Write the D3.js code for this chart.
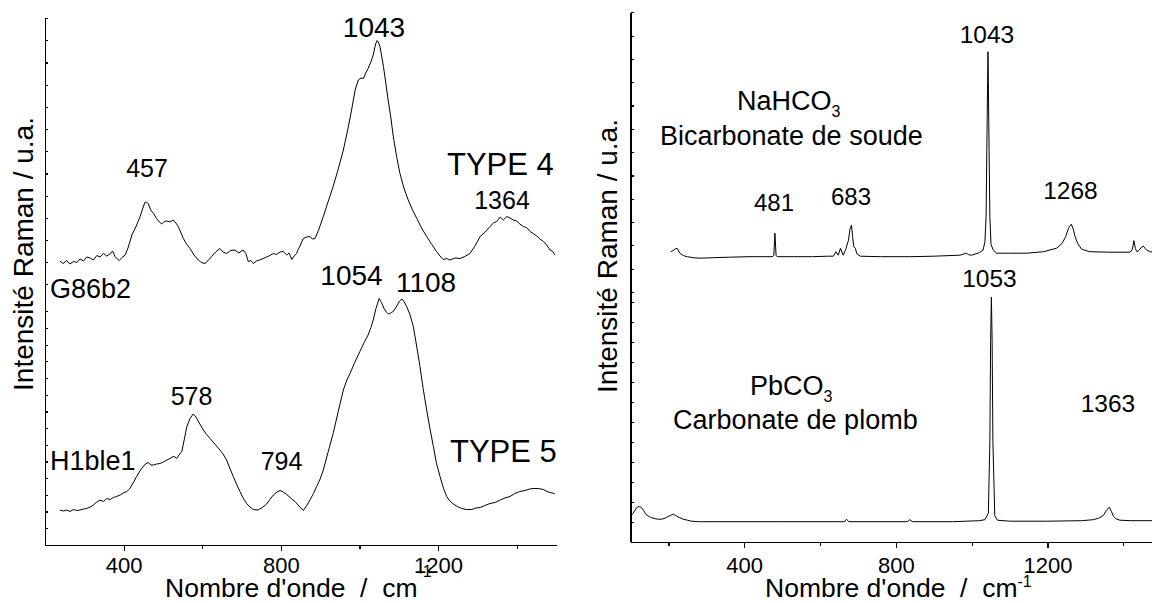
<!DOCTYPE html>
<html><head><meta charset="utf-8">
<script src="https://cdn.jsdelivr.net/npm/d3@7"></script>
<style>
body{margin:0;background:#fff;}
svg{display:block;font-family:"Liberation Sans",Arial,sans-serif;}
.axis path,.axis line{stroke:#000;stroke-width:1.2;shape-rendering:crispEdges;}
.axis text{fill:#000;}
</style></head><body>
<script>
// ---------- DATA ----------
// Left panel: tick values
const leftXMajor = [400, 800, 1200];
const leftXMinor = [600, 1000, 1400];
const leftYTicks = [0, 3.34, 6.68, 10.02, 13.36, 16.7, 20.04, 23.38, 26.72, 30.06, 33.4, 36.74, 40.08, 43.42, 46.76,
  52.12, 56.56, 61.0, 65.44, 69.88, 74.32, 78.76, 83.2, 87.64, 92.08, 96.52, 100.96, 105.4];
// Right panel: tick values
const rightXMajor = [400, 800, 1200];
const rightXMinor = [200, 600, 1000, 1400];
const rightYTicks = [0, 4, 8, 12, 16, 20, 24, 28, 32, 36, 40, 44, 48,
  49.96, 54.62, 59.28, 63.94, 68.6, 73.26, 77.92, 82.58, 87.24, 91.9, 96.56, 101.22, 105.88];

// TYPE 4 (G86b2)
const type4Wn = [238,246,255,263,272,281,289,298,306,315,323,332,340,349,357,365,372,378,384,389,396,404,412,421,431,442,449,454,458,463,469,476,484,491,497,503,510,518,526,533,539,545,552,560,569,579,590,598,607,615,624,634,645,653,662,672,683,693,704,711,717,724,730,738,746,755,764,772,781,789,798,806,815,821,828,834,840,844,850,857,866,874,880,887,897,908,920,933,946,959,970,980,989,997,1004,1010,1016,1022,1029,1035,1041,1045,1049,1052,1056,1061,1067,1073,1080,1086,1095,1103,1113,1124,1135,1146,1158,1171,1184,1196,1205,1213,1222,1230,1243,1256,1268,1281,1294,1307,1320,1332,1341,1349,1358,1366,1375,1383,1391,1400,1408,1417,1425,1434,1442,1451,1459,1468,1476,1485,1492,1497];
const type4Int = [56.8,56.3,56.9,56.2,56.7,56.5,57.2,56.8,57.6,57.4,57.0,57.9,57.6,58.3,57.8,58.2,58.8,57.7,57.2,56.9,57.5,58.0,59.6,62.0,63.6,65.7,67.4,68.5,68.6,68.2,67.0,66.3,65.3,64.6,64.2,64.7,64.8,64.6,65.0,64.4,63.7,62.6,61.3,60.2,59.3,58.0,57.0,56.5,56.3,56.9,57.7,58.6,59.3,58.6,58.3,58.9,59.0,58.4,59.0,58.3,56.7,56.9,56.3,56.8,57.0,57.3,57.6,57.9,58.3,58.1,58.6,58.7,58.0,58.4,57.1,57.8,58.3,59.1,60.0,61.3,61.6,61.7,61.2,61.3,63.2,65.7,68.6,71.7,75.2,79.0,83.0,87.0,91.0,93.0,93.4,93.3,94.4,95.3,96.6,98.0,100.2,100.9,100.4,99.7,98.0,95.7,92.4,89.0,85.4,81.7,77.5,74.3,71.4,69.0,67.0,65.3,63.4,61.7,60.1,58.7,57.8,57.1,57.3,57.0,57.4,57.3,57.7,58.3,59.8,61.7,62.6,63.7,64.4,64.7,65.6,65.0,65.7,65.4,65.0,64.8,64.2,63.7,63.5,62.7,62.3,61.8,61.2,60.7,60.0,59.0,58.7,58.0];

// TYPE 5 (H1ble1)
const type5Wn = [238,247,255,264,272,281,289,298,306,315,323,332,340,349,357,366,374,382,391,399,408,415,421,427,433,440,446,455,463,469,476,484,493,501,510,518,526,531,535,541,548,554,561,569,577,582,586,594,603,611,620,632,645,653,662,670,679,687,696,704,713,721,730,742,753,764,772,781,790,798,806,815,825,836,846,857,866,874,883,891,900,908,920,933,946,959,968,976,988,1001,1012,1022,1029,1035,1042,1050,1056,1062,1068,1074,1081,1086,1095,1102,1108,1114,1120,1128,1137,1145,1154,1162,1171,1180,1188,1196,1205,1214,1222,1230,1239,1249,1260,1273,1286,1296,1307,1319,1332,1345,1358,1370,1383,1395,1408,1421,1433,1442,1455,1468,1477,1485,1492,1497];
const type5Int = [7.0,6.8,7.0,6.7,7.1,6.9,7.0,7.2,7.3,7.6,8.0,8.6,9.0,8.7,9.3,9.1,9.5,9.7,10.0,10.4,10.7,11.2,12.0,12.8,13.7,14.6,15.3,16.2,16.5,16.0,16.0,16.2,16.3,16.6,17.0,17.3,17.7,17.6,17.3,18.0,18.7,21.0,23.7,25.3,26.2,25.8,25.3,24.2,23.0,22.1,21.3,20.2,19.0,18.2,17.0,15.4,13.7,12.2,10.7,9.4,8.3,7.6,7.1,7.0,7.5,8.2,9.1,10.0,10.6,10.9,10.6,10.1,9.4,8.7,7.8,6.9,7.9,9.0,10.3,11.7,13.2,15.0,18.5,22.3,26.7,31.0,33.0,34.3,36.5,38.7,40.5,42.0,43.5,45.0,47.3,49.3,48.5,47.4,46.6,46.2,46.5,46.7,47.8,48.8,49.2,48.6,47.7,46.2,43.7,40.0,35.7,31.3,27.0,23.0,19.7,16.3,13.7,11.3,9.7,8.8,8.2,7.7,7.3,7.1,7.1,7.4,7.5,7.9,8.3,8.5,9.0,9.4,9.7,10.3,10.7,10.9,11.2,11.3,11.3,11.1,10.7,10.5,10.4,10.2];

// NaHCO3
const nahco3Wn = [206,212,217,223,230,240,250,265,283,320,362,410,455,474,478,481,484,488,530,580,620,635,642,648,654,661,668,675,679,683,686,689,693,697,706,760,837,900,969,986,992,1000,1020,1030,1035,1038,1040,1042,1043,1044,1046,1048,1051,1057,1066,1100,1145,1190,1224,1238,1248,1256,1263,1268,1273,1280,1290,1312,1360,1418,1424,1428,1432,1436,1440,1444,1449,1453,1457,1462,1470,1480];
const nahco3Int = [58.0,58.2,58.5,58.7,57.7,57.2,57.0,56.8,56.7,56.8,56.9,57.0,57.0,57.0,57.2,61.7,57.2,57.0,57.0,57.0,57.1,57.1,58.0,57.3,58.7,57.3,58.5,60.3,62.5,63.3,61.0,59.0,58.7,57.6,57.1,57.0,57.0,57.1,57.3,57.7,57.4,57.3,57.8,58.3,60.0,65,78,92,98.0,92,78,65,59.5,58.3,57.7,57.7,57.7,58.0,58.7,59.6,61.0,62.8,63.5,62.5,61.0,59.6,58.5,58.0,57.9,57.9,58.5,60.2,58.6,58.0,58.2,58.5,59.0,59.1,58.7,58.3,58.0,57.9];

// PbCO3
const pbco3Wn = [100,104,107,112,116,121,125,129,134,139,143,150,156,165,173,182,191,198,204,209,213,218,222,230,239,250,261,280,323,500,650,664,670,676,700,830,837,844,950,1020,1035,1044,1048,1050,1052,1054,1056,1061,1068,1100,1200,1290,1321,1335,1347,1356,1363,1369,1374,1380,1391,1420,1480];
const pbco3Int = [5.1,5.4,5.7,6.3,6.8,7.0,7.0,6.8,6.3,5.7,5.3,5.0,4.8,4.6,4.5,4.5,4.7,5.0,5.2,5.4,5.5,5.3,5.1,4.8,4.5,4.3,4.1,4.0,4.0,4.0,4.0,4.0,4.5,4.0,4.0,4.0,4.4,4.0,4.0,4.2,4.4,5.7,20,40,48.9,40,20,5.2,4.3,4.1,4.1,4.2,4.4,4.7,5.2,6.3,6.9,6.0,5.1,4.6,4.3,4.2,4.2];

// ---------- LAYOUT ----------
const W = 1152, H = 603;
const L = {x0:45, x1:556, yTop:18, yBot:545, xDomain:[200,1500], yDomain:[0,105.4], labelBase:573};
const R = {x0:630.5, x1:1161.2, yTop:12, yBot:541.7, xDomain:[100,1500], yDomain:[0,105.94], labelBase:573};

const svg = d3.select("body").append("svg").attr("width", W).attr("height", H);

function panel(P, xMajor, xMinor, yTicks, series) {
  const x = d3.scaleLinear().domain(P.xDomain).range([P.x0, P.x1]);
  const y = d3.scaleLinear().domain(P.yDomain).range([P.yBot, P.yTop]);
  const g = svg.append("g");
  // minor x ticks
  g.append("g").attr("class","axis").attr("transform",`translate(0,${P.yBot})`)
    .call(d3.axisBottom(x).tickValues(xMinor).tickSize(4).tickSizeOuter(0).tickFormat(""))
    .select(".domain").remove();
  // major x ticks
  g.append("g").attr("class","axis").attr("transform",`translate(0,${P.yBot})`)
    .call(d3.axisBottom(x).tickValues(xMajor).tickSize(6).tickSizeOuter(0).tickFormat(d3.format("d")))
    .call(a=>a.selectAll("text").attr("font-size",22).attr("font-family","Liberation Sans, Arial")
      .attr("y", P.labelBase - P.yBot).attr("dy", 0));
  // y axis (inward ticks)
  g.append("g").attr("class","axis").attr("transform",`translate(${P.x0},0)`)
    .call(d3.axisLeft(y).tickValues(yTicks).tickSize(-3).tickSizeOuter(0).tickFormat(""));
  const line = d3.line().x(d=>x(d[0])).y(d=>y(d[1]));
  series.forEach(s=>{
    g.append("path").datum(d3.zip(s[0], s[1]))
      .attr("fill","none").attr("stroke","#000").attr("stroke-width",1)
      .attr("stroke-linejoin","round").attr("d", line);
  });
  return {x, y};
}

panel(L, leftXMajor, leftXMinor, leftYTicks, [[type4Wn, type4Int],[type5Wn, type5Int]]);
panel(R, rightXMajor, rightXMinor, rightYTicks, [[nahco3Wn, nahco3Int],[pbco3Wn, pbco3Int]]);

// ---------- TEXT ----------
function txt(t, px, py, size, anchor) {
  return svg.append("text").attr("x", px).attr("y", py).attr("font-size", size)
    .attr("text-anchor", anchor || "middle").attr("fill","#000").attr("xml:space","preserve").text(t);
}
// left annotations
txt("457", 147, 177, 25);
txt("1043", 374, 37, 28);
txt("TYPE 4", 447, 175, 31, "start");
txt("1364", 502, 209, 25);
txt("G86b2", 50, 298, 27, "start");
txt("1054", 351.5, 285, 28);
txt("1108", 426, 292, 28);
txt("578", 191.5, 405, 25);
txt("H1ble1", 50, 470, 27, "start");
txt("794", 281.5, 470, 25);
txt("TYPE 5", 450, 462, 31, "start");
// right annotations
const na = txt("NaHCO", 737, 110, 27, "start");
na.append("tspan").attr("dy", 7).attr("font-size", 16).text("3");
txt("Bicarbonate de soude", 660, 145, 27, "start");
txt("481", 774, 211, 24);
txt("683", 851, 205, 24);
txt("1043", 987, 43, 24.5);
txt("1268", 1070.5, 199, 24.5);
txt("1053", 989.5, 287, 24.5);
const pb = txt("PbCO", 750, 395, 27, "start");
pb.append("tspan").attr("dy", 7).attr("font-size", 16).text("3");
txt("Carbonate de plomb", 673, 429, 27, "start");
txt("1363", 1108, 412, 24.5);

// axis titles
const xl = txt("Nombre d'onde  /  cm", 165, 597, 26.5, "start");
xl.append("tspan").attr("dy", -20).attr("font-size", 16).text("-1");
const xr = txt("Nombre d'onde  /  cm", 765, 597, 26.5, "start");
xr.append("tspan").attr("dy", -10).attr("font-size", 16).text("-1");

svg.append("text").attr("transform","translate(33,254) rotate(-90)")
  .attr("text-anchor","middle").attr("font-size",28).attr("fill","#000").text("Intensité Raman / u.a.");
svg.append("text").attr("transform","translate(617,256) rotate(-90)")
  .attr("text-anchor","middle").attr("font-size",28).attr("fill","#000").text("Intensité Raman / u.a.");
</script>
</body></html>
